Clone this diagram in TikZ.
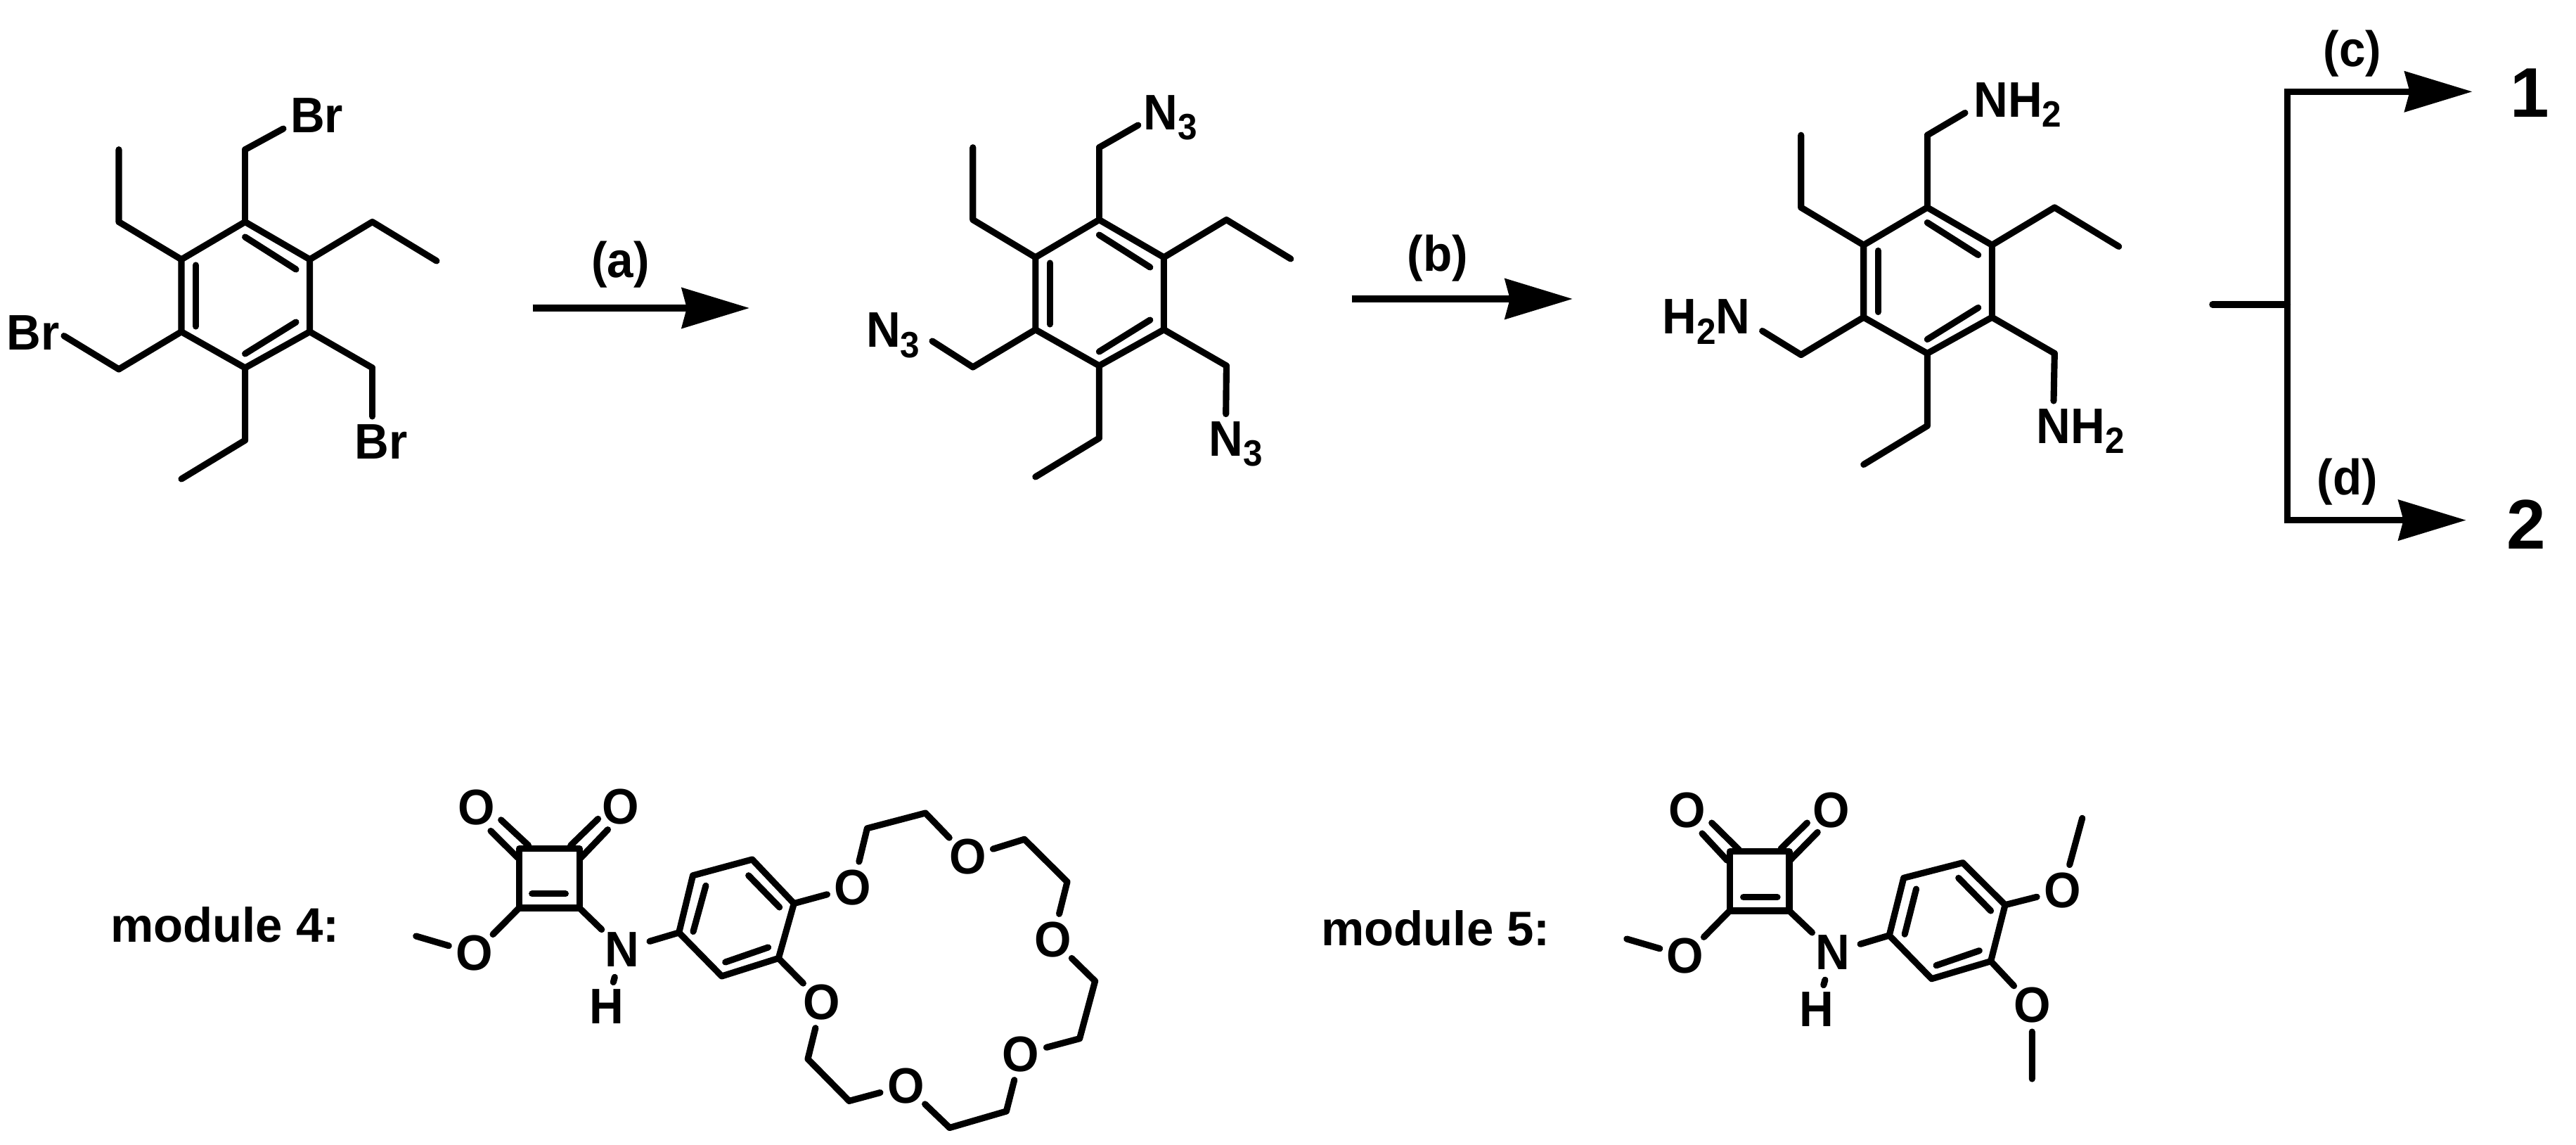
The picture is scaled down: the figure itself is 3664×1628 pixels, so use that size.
\documentclass[tikz,border=0pt]{standalone}
\usepackage{fontspec}
\setmainfont{Liberation Sans}
\newfontfamily\atomfont[FakeStretch=0.95]{Liberation Sans Bold}
\usetikzlibrary{arrows.meta}
\newcommand{\chemsub}[1]{\raisebox{-0.14cm}{\fontsize{14.8}{16}\selectfont #1}}
\tikzset{
	bond/.style={line width=2.6pt,line cap=round,line join=round},
	rxn/.style={line width=2.6pt,-{Stealth[length=0.96cm,width=0.57cm,inset=0.07cm]}},
	atomlabel/.style={anchor=base west,inner sep=0pt,font=\fontsize{20.2}{24}\atomfont},
	oxy/.style={circle,inner sep=0pt,minimum size=0.74cm,font=\fontsize{20.2}{24}\atomfont},
	rxnlabel/.style={inner sep=0pt,font=\fontsize{20.2}{24}\atomfont},
	modlabel/.style={anchor=base west,inner sep=0pt,font=\fontsize{19.6}{24}\selectfont\bfseries},
	product/.style={anchor=base,inner sep=0pt,font=\fontsize{28.4}{32}\selectfont\bfseries}
}
\begin{document}
\begin{tikzpicture}[x=0.01cm,y=-0.01cm]
	\useasboundingbox (0,0) rectangle (3664,1628);
	%the three tetraethylbenzene skeletons
	\foreach \m/\dx/\dy in {a/0/0, b/1214.8/-3, c/2392.7/-20.5}{
		\begin{scope}[shift={(\dx,\dy)},name prefix=\m-]
			\coordinate (r1) at (348.6,315.5);
			\coordinate (r2) at (440.6,368.9);
			\coordinate (r3) at (440.6,471.7);
			\coordinate (r4) at (348.6,523);
			\coordinate (r5) at (258,471.7);
			\coordinate (r6) at (258,368.9);
			\coordinate (ctop) at (348.6,212.7);
			\coordinate (cleft) at (169,525);
			\coordinate (cright) at (529.6,523);
			\draw[bond] (r1) -- (r2) -- (r3) -- (r4) -- (r5) -- (r6) -- cycle;
			\coordinate (d1) at (348.6,337);
			\coordinate (d2) at (421,383);
			\coordinate (d3) at (278.5,377);
			\coordinate (d4) at (278.5,464);
			\coordinate (d5) at (421,458);
			\coordinate (d6) at (348.6,503);
			\draw[bond] (d1) -- (d2);
			\draw[bond] (d3) -- (d4);
			\draw[bond] (d5) -- (d6);
			%ethyl groups
			\coordinate (e1) at (169,315.5);
			\coordinate (e2) at (169,212.7);
			\coordinate (e3) at (529.6,315.5);
			\coordinate (e4) at (621,371);
			\coordinate (e5) at (348.6,626);
			\coordinate (e6) at (258,681);
			\draw[bond] (r6) -- (e1) -- (e2);
			\draw[bond] (r2) -- (e3) -- (e4);
			\draw[bond] (r4) -- (e5) -- (e6);
			%stubs that carry the labels
			\draw[bond] (r1) -- (ctop);
			\draw[bond] (r5) -- (cleft);
			\draw[bond] (r3) -- (cright);
		\end{scope}
	}

	%bromide
	\node[atomlabel] (brtop) at (412.5,189) {Br};
	\node[atomlabel] (brleft) at (9,497.4) {Br};
	\node[atomlabel] (brright) at (503.6,652.8) {Br};
	\coordinate (endbrtop) at (403,183);
	\coordinate (endbrleft) at (91,477.6);
	\coordinate (endbrright) at (529.6,592);
	\draw[bond] (a-ctop) -- (endbrtop);
	\draw[bond] (a-cleft) -- (endbrleft);
	\draw[bond] (a-cright) -- (endbrright);

	%azide
	\node[atomlabel] (nthreetop) at (1626,185) {N\chemsub{3}};
	\node[atomlabel] (nthreeleft) at (1231.5,494) {N\chemsub{3}};
	\node[atomlabel] (nthreeright) at (1719,648.6) {N\chemsub{3}};
	\coordinate (endntop) at (1618.8,178);
	\coordinate (endnleft) at (1326,485);
	\coordinate (endnright) at (1743.7,588.6);
	\draw[bond] (b-ctop) -- (endntop);
	\draw[bond] (b-cleft) -- (endnleft);
	\draw[bond] (b-cright) -- (endnright);

	%amine
	\node[atomlabel] (nhtop) at (2806.7,166.2) {NH\chemsub{2}};
	\node[atomlabel] (nhleft) at (2364,475) {H\chemsub{2}N};
	\node[atomlabel] (nhright) at (2896,630) {NH\chemsub{2}};
	\coordinate (endhtop) at (2795,160.5);
	\coordinate (endhleft) at (2506.6,470.5);
	\coordinate (endhright) at (2921,570);
	\draw[bond] (c-ctop) -- (endhtop);
	\draw[bond] (c-cleft) -- (endhleft);
	\draw[bond] (c-cright) -- (endhright);

	%reaction arrows
	\coordinate (astart) at (757.6,438);
	\coordinate (atip) at (1066,438);
	\draw[rxn] (astart) -- (atip);
	\node[rxnlabel] (alabel) at (882.5,376) {(a)};
	\coordinate (bstart) at (1922.5,425);
	\coordinate (btip) at (2236.8,425);
	\draw[rxn] (bstart) -- (btip);
	\node[rxnlabel] (blabel) at (2045,367) {(b)};

	%branch to the products
	\coordinate (stub) at (3146.8,433);
	\coordinate (stubend) at (3253.6,433);
	\coordinate (ctop) at (3253.6,130.3);
	\coordinate (cbottom) at (3253.6,739.6);
	\coordinate (ctip) at (3516.5,130.3);
	\coordinate (dtip) at (3507.6,739.6);
	\draw[line width=2.6pt,line cap=rect] (ctop) -- (cbottom);
	\draw[bond] (stub) -- (stubend);
	\draw[rxn] (ctop) -- (ctip);
	\draw[rxn] (cbottom) -- (dtip);
	\node[rxnlabel] (clabel) at (3346,76) {(c)};
	\node[rxnlabel] (dlabel) at (3338.8,685) {(d)};
	\node[product] (one) at (3598,166.6) {1};
	\node[product] (two) at (3593.5,780) {2};

	%module 4
	\node[modlabel] (modfour) at (156.5,1339) {module 4:};
	\coordinate (f1) at (738.4,1206.7);
	\coordinate (f2) at (824.2,1206.7);
	\coordinate (f3) at (824.2,1291);
	\coordinate (f4) at (738.4,1291);
	\draw[bond] (f1) -- (f2) -- (f3) -- (f4) -- cycle;
	\coordinate (fi1) at (756.7,1270.9);
	\coordinate (fi2) at (804.4,1270.9);
	\draw[bond] (fi1) -- (fi2);
	\node[oxy] (fo1) at (677.5,1148) {O};
	\node[oxy] (fo2) at (882.8,1147) {O};
	\coordinate (fc1) at (698,1181.4);
	\coordinate (fc2) at (736.2,1219.4);
	\coordinate (fc3) at (712.7,1165.8);
	\coordinate (fc4) at (751.6,1202);
	\coordinate (fc5) at (850.6,1164.3);
	\coordinate (fc6) at (811.7,1202);
	\coordinate (fc7) at (864.5,1179.6);
	\coordinate (fc8) at (826.4,1219.4);
	\draw[bond] (fc1) -- (fc2);
	\draw[bond] (fc3) -- (fc4);
	\draw[bond] (fc5) -- (fc6);
	\draw[bond] (fc7) -- (fc8);
	\node[oxy] (fome) at (674.5,1355.3) {O};
	\coordinate (fme) at (591.7,1331);
	\draw[bond] (f4) -- (fome) -- (fme);
	\node[oxy,minimum size=0.8cm] (fn) at (885,1350) {N};
	\node[oxy,minimum size=0.7cm] (fh) at (863,1431) {H};
	\draw[bond] (f3) -- (fn);
	\draw[bond] (fn) -- (fh);
	%benzo ring
	\coordinate (fa) at (965.7,1326);
	\coordinate (fb) at (985.5,1244.8);
	\coordinate (fc) at (1069.9,1222);
	\coordinate (fd) at (1129.3,1284.6);
	\coordinate (fe) at (1107.3,1362.5);
	\coordinate (ff) at (1026.6,1388);
	\draw[bond] (fn) -- (fa);
	\draw[bond] (fa) -- (fb) -- (fc) -- (fd) -- (fe) -- (ff) -- cycle;
	\coordinate (fd1) at (986,1324.5);
	\coordinate (fd2) at (1003.9,1259.3);
	\coordinate (fd3) at (1064.7,1244.8);
	\coordinate (fd4) at (1108.7,1290);
	\coordinate (fd5) at (1031.7,1368);
	\coordinate (fd6) at (1092.6,1347);
	\draw[bond] (fd1) -- (fd2);
	\draw[bond] (fd3) -- (fd4);
	\draw[bond] (fd5) -- (fd6);
	%crown
	\node[oxy] (o1) at (1212.9,1261.8) {O};
	\node[oxy] (o2) at (1376.4,1218.3) {O};
	\node[oxy] (o3) at (1497.4,1336) {O};
	\node[oxy] (o4) at (1452,1499) {O};
	\node[oxy] (o5) at (1288.4,1543.7) {O};
	\node[oxy] (o6) at (1168.9,1425) {O};
	\coordinate (k1) at (1233.4,1177.8);
	\coordinate (k2) at (1316.3,1156);
	\coordinate (k3) at (1457,1193.3);
	\coordinate (k4) at (1518,1253.8);
	\coordinate (k5) at (1557.6,1395);
	\coordinate (k6) at (1535.6,1476.7);
	\coordinate (k7) at (1431.4,1580);
	\coordinate (k8) at (1350.7,1603.5);
	\coordinate (k9) at (1207.8,1565.4);
	\coordinate (k10) at (1149,1505.7);
	\draw[bond] (fd) -- (o1) -- (k1) -- (k2) -- (o2) -- (k3) -- (k4) -- (o3) -- (k5) -- (k6) -- (o4) -- (k7) -- (k8) -- (o5) -- (k9) -- (k10) -- (o6) -- (fe);

	%module 5
	\node[modlabel] (modfive) at (1878.5,1344) {module 5:};
	\coordinate (g1) at (2460.2,1210.7);
	\coordinate (g2) at (2544.9,1210.7);
	\coordinate (g3) at (2544.9,1295);
	\coordinate (g4) at (2460.2,1295);
	\draw[bond] (g1) -- (g2) -- (g3) -- (g4) -- cycle;
	\coordinate (gi1) at (2479.6,1275.7);
	\coordinate (gi2) at (2528,1275.7);
	\draw[bond] (gi1) -- (gi2);
	\node[oxy] (go1) at (2399.5,1152.3) {O};
	\node[oxy] (go2) at (2604.6,1152.3) {O};
	\coordinate (gc1) at (2421,1185);
	\coordinate (gc2) at (2456.6,1223.3);
	\coordinate (gc3) at (2434.7,1170);
	\coordinate (gc4) at (2473.5,1208.3);
	\coordinate (gc5) at (2570.4,1170);
	\coordinate (gc6) at (2533,1206.7);
	\coordinate (gc7) at (2585.2,1183.3);
	\coordinate (gc8) at (2546,1223.3);
	\draw[bond] (gc1) -- (gc2);
	\draw[bond] (gc3) -- (gc4);
	\draw[bond] (gc5) -- (gc6);
	\draw[bond] (gc7) -- (gc8);
	\node[oxy] (gome) at (2397,1359.3) {O};
	\coordinate (gme) at (2313.8,1335);
	\draw[bond] (g4) -- (gome) -- (gme);
	\node[oxy,minimum size=0.8cm] (gn) at (2607,1354) {N};
	\node[oxy,minimum size=0.7cm] (gh) at (2584,1435) {H};
	\draw[bond] (g3) -- (gn);
	\draw[bond] (gn) -- (gh);
	\coordinate (ga) at (2687.2,1330);
	\coordinate (gb) at (2707.7,1248.3);
	\coordinate (gc) at (2791.8,1226.7);
	\coordinate (gd) at (2852,1286.7);
	\coordinate (ge) at (2831.6,1366.7);
	\coordinate (gf) at (2747.4,1391.7);
	\draw[bond] (gn) -- (ga);
	\draw[bond] (ga) -- (gb) -- (gc) -- (gd) -- (ge) -- (gf) -- cycle;
	\coordinate (gd1) at (2709.2,1328.3);
	\coordinate (gd2) at (2725.5,1264);
	\coordinate (gd3) at (2785.7,1248.3);
	\coordinate (gd4) at (2831.6,1295);
	\coordinate (gd5) at (2754,1372.7);
	\coordinate (gd6) at (2815.3,1351.7);
	\draw[bond] (gd1) -- (gd2);
	\draw[bond] (gd3) -- (gd4);
	\draw[bond] (gd5) -- (gd6);
	\node[oxy] (gme1) at (2933.7,1266) {O};
	\node[oxy] (gme2) at (2890.3,1429.3) {O};
	\coordinate (gt1) at (2961.7,1163.3);
	\coordinate (gt2) at (2890.3,1534);
	\draw[bond] (gd) -- (gme1) -- (gt1);
	\draw[bond] (ge) -- (gme2) -- (gt2);
\end{tikzpicture}
\end{document}
